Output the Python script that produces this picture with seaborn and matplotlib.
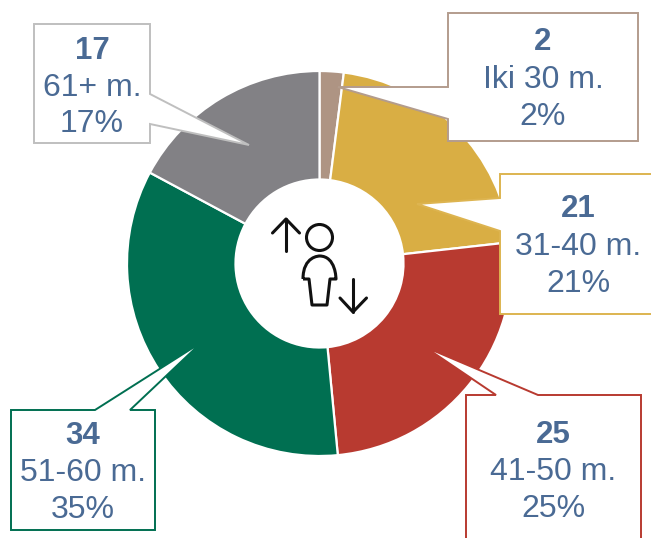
import matplotlib
matplotlib.use("Agg")
import matplotlib.pyplot as plt
from matplotlib.patches import Polygon, Circle, PathPatch
from matplotlib.path import Path
import seaborn as sns

# data
counts = [2, 21, 25, 34, 17]
groups = ["Iki 30 m.", "31-40 m.", "41-50 m.", "51-60 m.", "61+ m."]
shares = ["2%", "21%", "25%", "35%", "17%"]
colors = ["#AE9483", "#D9AE44", "#B83A30", "#006F51", "#828185"]
edge_colors = ["#B39C8D", "#DDB450", "#B83A30", "#006F51", "#BFBFBF"]
text_color = "#4A6A94"

sns.set_theme(style="white")
plt.rcParams["font.family"] = ["Liberation Sans", "DejaVu Sans"]

W, H = 651, 538
fig = plt.figure(figsize=(W / 100, H / 100), dpi=100, facecolor="white")
ax = fig.add_axes([0, 0, 1, 1])


def Y(py):
    return H - py


palette = sns.color_palette(colors)
ax.pie(counts, colors=palette, startangle=90, counterclock=False,
       radius=192.5, center=(319.5, Y(263.5)), frame=True,
       wedgeprops=dict(width=108.5, edgecolor="white", linewidth=1.6))
ax.set_xlim(0, W)
ax.set_ylim(0, H)
ax.set_aspect("equal")
ax.axis("off")

# callouts: pixel outline of each box with its pointer
callouts = [
    [(448, 13), (638, 13), (638, 141), (448, 141), (448, 119), (338, 87), (448, 87)],
    [(500, 174), (662, 174), (662, 314), (500, 314), (500, 231), (417, 204), (500, 198)],
    [(466, 395), (496, 395), (425, 347), (538, 395), (641, 395), (641, 550), (466, 550)],
    [(11, 410), (95, 410), (202, 342), (130, 410), (155, 410), (155, 530), (11, 530)],
    [(34, 24), (150, 24), (150, 94), (249, 145), (150, 124), (150, 143), (34, 143)],
]
text_pos = [(543, (42, 80, 117)), (578, (209, 247, 284)), (553, (435, 472, 509)),
            (83, (436, 473, 510)), (92, (51, 88, 124))]

for pts, ec, n, g, s, (tx, tys) in zip(callouts, edge_colors, counts, groups, shares, text_pos):
    ax.add_patch(Polygon([(x, Y(y)) for x, y in pts], closed=True, facecolor="white",
                         edgecolor=ec, linewidth=1.4, joinstyle="miter", zorder=5))
    ax.text(tx, Y(tys[0]), str(n), ha="center", va="center", color=text_color,
            fontsize=22.5, fontweight="bold", zorder=6)
    ax.text(tx, Y(tys[1]), g, ha="center", va="center", color=text_color,
            fontsize=23, zorder=6)
    ax.text(tx, Y(tys[2]), s, ha="center", va="center", color=text_color,
            fontsize=23, zorder=6)

# centre icon
icon = dict(color="#111111", linewidth=2.2, solid_capstyle="round",
            solid_joinstyle="round", zorder=7)
ax.plot([286, 286], [Y(219), Y(251)], **icon)
ax.plot([272.5, 286, 299.5], [Y(233), Y(219), Y(233)], **icon)
ax.plot([353, 353], [Y(279), Y(312)], **icon)
ax.plot([340, 353, 366.5], [Y(298), Y(312), Y(298)], **icon)
ax.add_patch(Circle((319.5, Y(237.5)), 13, facecolor="none", edgecolor="#111111",
                    linewidth=2.2, zorder=7))
body = Path(
    [(303, Y(279)), (303, Y(256)), (319.5, Y(256)), (319.5, Y(256)),
     (336, Y(256)), (336, Y(279)), (336, Y(279)),
     (330, Y(279)), (327, Y(305)), (312, Y(305)), (309, Y(279)), (303, Y(279))],
    [Path.MOVETO, Path.CURVE4, Path.CURVE4, Path.CURVE4,
     Path.CURVE4, Path.CURVE4, Path.CURVE4,
     Path.LINETO, Path.LINETO, Path.LINETO, Path.LINETO, Path.LINETO])
ax.add_patch(PathPatch(body, facecolor="none", edgecolor="#111111", linewidth=2.2,
                       joinstyle="round", zorder=7))

fig.savefig("out.png", dpi=100, facecolor="white")
